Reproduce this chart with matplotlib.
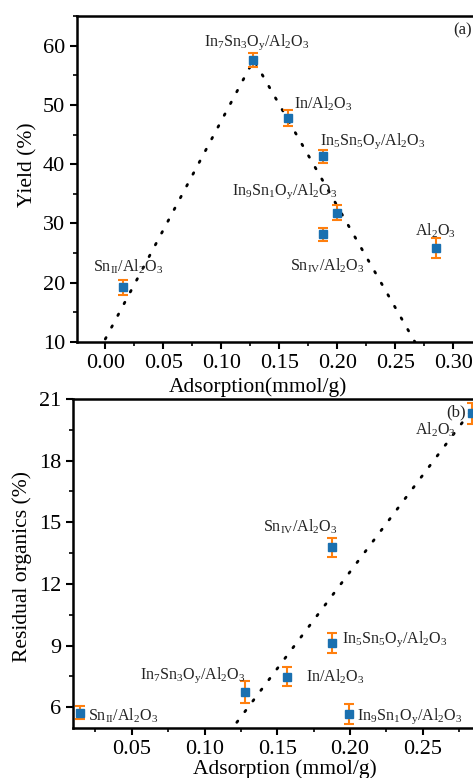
import matplotlib
matplotlib.use('Agg')
import matplotlib.pyplot as plt
from matplotlib.ticker import MultipleLocator

plt.rcParams['font.family'] = ['Liberation Serif', 'DejaVu Serif']
plt.rcParams['mathtext.default'] = 'regular'

# panel (a): yield vs adsorption
ads_a = [0.0155, 0.1273, 0.1575, 0.188, 0.1995, 0.188, 0.2848]
yld = [19.2, 57.6, 47.8, 41.3, 31.8, 28.2, 25.8]
yld_err = [1.2, 1.2, 1.4, 1.1, 1.3, 1.1, 1.7]
names_a = ['Sn$_{II}$/Al$_2$O$_3$', 'In$_7$Sn$_3$O$_y$/Al$_2$O$_3$', 'In/Al$_2$O$_3$',
           'In$_5$Sn$_5$O$_y$/Al$_2$O$_3$', 'In$_9$Sn$_1$O$_y$/Al$_2$O$_3$',
           'Sn$_{IV}$/Al$_2$O$_3$', 'Al$_2$O$_3$']
trend_a_x = [0.0, 0.128, 0.267]
trend_a_y = [10.5, 57.6, 10.0]

# panel (b): residual organics vs adsorption
ads_b = [0.0145, 0.1279, 0.157, 0.1879, 0.1879, 0.1993, 0.2837]
res = [5.73, 6.75, 7.48, 9.13, 13.79, 5.68, 20.3]
res_err = [0.32, 0.53, 0.46, 0.47, 0.46, 0.49, 0.5]
names_b = ['Sn$_{II}$/Al$_2$O$_3$', 'In$_7$Sn$_3$O$_y$/Al$_2$O$_3$', 'In/Al$_2$O$_3$',
           'In$_5$Sn$_5$O$_y$/Al$_2$O$_3$', 'Sn$_{IV}$/Al$_2$O$_3$',
           'In$_9$Sn$_1$O$_y$/Al$_2$O$_3$', 'Al$_2$O$_3$']
trend_b_x = [0.1222, 0.283]
trend_b_y = [5.26, 20.4]

# label anchor positions (left, centre)
pos_a = [(-0.0109, 22.7), (0.0851, 60.6), (0.1627, 50.2), (0.185, 43.8),
         (0.1095, 35.4), (0.1592, 22.9), (0.267, 28.8)]
pos_b = [(0.0202, 5.56), (0.0557, 7.55), (0.1696, 7.46), (0.1947, 9.29),
         (0.1404, 14.8), (0.2051, 5.56), (0.2447, 19.5)]

W, H = 473, 778
fig = plt.figure(figsize=(W/100, H/100), dpi=100)
ax1 = fig.add_axes([77/W, (H-342)/H, 411/W, 326/H])
ax2 = fig.add_axes([72.7/W, (H-727.7)/H, 415.5/W, 328.7/H])

blue = '#1a70b0'
orange = '#ff7f0e'
tcol = '#222222'

def style(ax):
    for s in ax.spines.values():
        s.set_linewidth(1.8)
    ax.tick_params(which='major', direction='out', length=5, width=1.5, labelsize=16,
                   top=False, right=False)
    ax.tick_params(which='minor', direction='out', length=3, width=1.2, top=False, right=False)

for ax, x, y, e, tx, ty in [(ax1, ads_a, yld, yld_err, trend_a_x, trend_a_y),
                            (ax2, ads_b, res, res_err, trend_b_x, trend_b_y)]:
    ax.plot(tx, ty, color='black', lw=2, linestyle=(0, (0.6, 4.2)),
            dash_capstyle='round', zorder=1)
    ax.errorbar(x, y, yerr=e, fmt='s', color=blue, ms=6, mec=blue,
                ecolor=orange, elinewidth=1.5, capsize=3.5, capthick=1.5, zorder=3)
    style(ax)

for n, (px, py) in zip(names_a, pos_a):
    ax1.text(px, py, n, fontsize=11.5, ha='left', va='center', color=tcol)
for n, (px, py) in zip(names_b, pos_b):
    ax2.text(px, py, n, fontsize=11.5, ha='left', va='center', color=tcol)

ax1.text(0.2997, 62.6, '(a)', fontsize=12, ha='left', va='center', color=tcol)
ax2.text(0.2665, 20.35, '(b)', fontsize=12, ha='left', va='center', color=tcol)

ax1.set_xlim(-0.0244, 0.33)
ax1.set_ylim(10, 65)
ax1.set_xticks([0.0, 0.05, 0.10, 0.15, 0.20, 0.25, 0.30])
ax1.set_xticklabels(['0.00', '0.05', '0.10', '0.15', '0.20', '0.25', '0.30'])
ax1.xaxis.set_minor_locator(MultipleLocator(0.025))
ax1.yaxis.set_major_locator(MultipleLocator(10))
ax1.yaxis.set_minor_locator(MultipleLocator(5))

ax2.set_xlim(0.0094, 0.2950)
ax2.set_ylim(5, 21)
ax2.set_xticks([0.05, 0.10, 0.15, 0.20, 0.25])
ax2.set_xticklabels(['0.05', '0.10', '0.15', '0.20', '0.25'])
ax2.xaxis.set_minor_locator(MultipleLocator(0.025))
ax2.set_yticks([6, 9, 12, 15, 18, 21])
ax2.yaxis.set_minor_locator(MultipleLocator(1.5))

fig.text(28/W, (H-165)/H, 'Yield (%)', fontsize=15.5, rotation=90, ha='center', va='center')
fig.text(21.7/W, (H-567)/H, 'Residual organics (%)', fontsize=15.5, rotation=90,
         ha='center', va='center')
fig.text(258/W, (H-377)/H, 'Adsorption(mmol/g)', fontsize=15.5, ha='center', va='top')
fig.text(284.7/W, (H-759)/H, 'Adsorption (mmol/g)', fontsize=15.5, ha='center', va='top')

fig.savefig('out.png', dpi=100)
